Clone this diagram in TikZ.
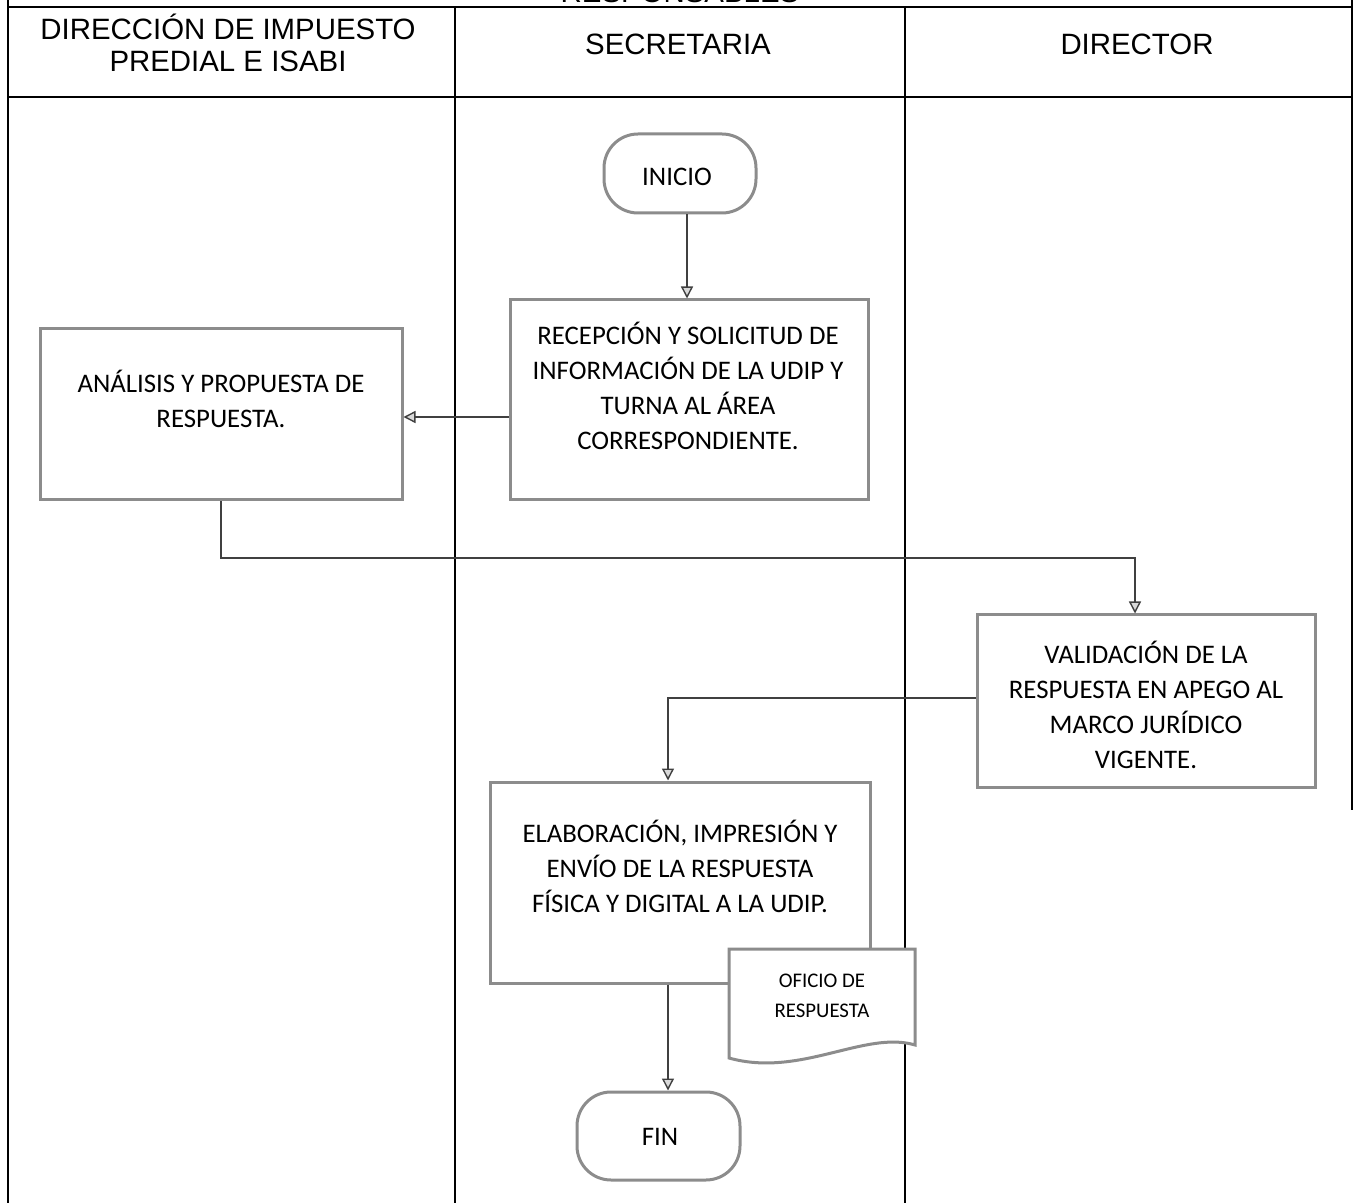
\documentclass[tikz,border=0pt]{standalone}
\usepackage{fontspec}
\setmainfont{Liberation Sans}
\newfontfamily\boxfont{Carlito}
\usetikzlibrary{arrows.meta}

\tikzset{
  frame/.style={draw=black, line width=1pt},
  headtxt/.style={font=\fontsize{14.7pt}{16pt}\selectfont, align=center, inner sep=0pt},
  steptxt/.style={font=\boxfont\fontsize{13.4pt}{17.5pt}\selectfont, align=center, inner sep=0pt},
  doctxt/.style={font=\boxfont\fontsize{10.4pt}{15pt}\selectfont, align=center, inner sep=0pt},
  stepbox/.style={draw=black!45, line width=1.5pt, fill=white, rectangle, inner sep=0pt},
  termbox/.style={stepbox, rounded corners=17pt},
  flow/.style={draw=black!75, line width=0.7pt,
    -{Triangle[open, length=6pt, width=6pt, line width=0.7pt, fill=black!15]}},
}

\begin{document}
\begin{tikzpicture}[x=0.5pt, y=-0.5pt]
\useasboundingbox (0,0) rectangle (1356,1203);

% --- table frame -------------------------------------------------------
\node[headtxt, anchor=base] (resp) at (680,3) {RESPONSABLES};
\draw[frame] (8,7) -- (1352,7);
\draw[frame] (8,97) -- (1352,97);
\draw[frame] (8,0) -- (8,1203);
\draw[frame] (455,7) -- (455,1203);
\draw[frame] (905,7) -- (905,1203);
\draw[frame] (1352,0) -- (1352,810);

% --- column headings ---------------------------------------------------
\node[headtxt] (h1) at (228,43) {DIRECCIÓN DE IMPUESTO\\PREDIAL E ISABI};
\node[headtxt] (h2) at (678,44) {SECRETARIA};
\node[headtxt] (h3) at (1137,44) {DIRECTOR};

% --- process steps -----------------------------------------------------
\node[termbox, minimum width=76pt, minimum height=39.5pt] (ini) at (680,173.5) {};
\node[steptxt] (iniT) at (677,177) {INICIO};

\node[stepbox, minimum width=179pt, minimum height=100pt] (rec) at (689,400) {};
\node[steptxt] (recT) at (688,386) {RECEPCIÓN Y SOLICITUD DE\\INFORMACIÓN DE LA UDIP Y\\TURNA AL ÁREA\\CORRESPONDIENTE.};

\node[stepbox, minimum width=181pt, minimum height=85.5pt] (ana) at (221,414.5) {};
\node[steptxt] (anaT) at (221,399) {ANÁLISIS Y PROPUESTA DE\\RESPUESTA.};

\node[stepbox, minimum width=169pt, minimum height=86pt] (val) at (1146,701) {};
\node[steptxt] (valT) at (1146,705) {VALIDACIÓN DE LA\\RESPUESTA EN APEGO AL\\MARCO JURÍDICO\\VIGENTE.};

\node[stepbox, minimum width=190pt, minimum height=100.5pt] (ela) at (680,882.5) {};
\node[steptxt] (elaT) at (680,866) {ELABORACIÓN, IMPRESIÓN Y\\ENVÍO DE LA RESPUESTA\\FÍSICA Y DIGITAL A LA UDIP.};

% document symbol overlapping the lower right corner of the last step
\draw[draw=black!45, line width=1.5pt, fill=white]
  (729,949) -- (915,949) -- (915,1045)
  .. controls (865,1030) and (800,1078) .. (729,1058) -- cycle;
\node[doctxt] (docT) at (822,996) {OFICIO DE\\RESPUESTA};

\node[termbox, minimum width=81.5pt, minimum height=44pt] (fin) at (658.5,1136) {};
\node[steptxt] (finT) at (660,1137) {FIN};

% --- connectors --------------------------------------------------------
\coordinate (j0) at (687,0);
\coordinate (j1) at (1135,558);
\coordinate (j2) at (668,698);

\draw[flow] (j0 |- ini.south) -- (j0 |- rec.north);
\draw[flow] ([yshift=-8.5pt]rec.west) -- ([yshift=-8.5pt]rec.west -| ana.east);
\draw[flow] (ana.south) |- (j1) -- (j1 |- val.north);
\draw[flow] (val.west |- j2) -- (j2) -- (j2 |- ela.north);
\draw[flow] (j2 |- ela.south) -- (j2 |- fin.north);

\end{tikzpicture}
\end{document}
